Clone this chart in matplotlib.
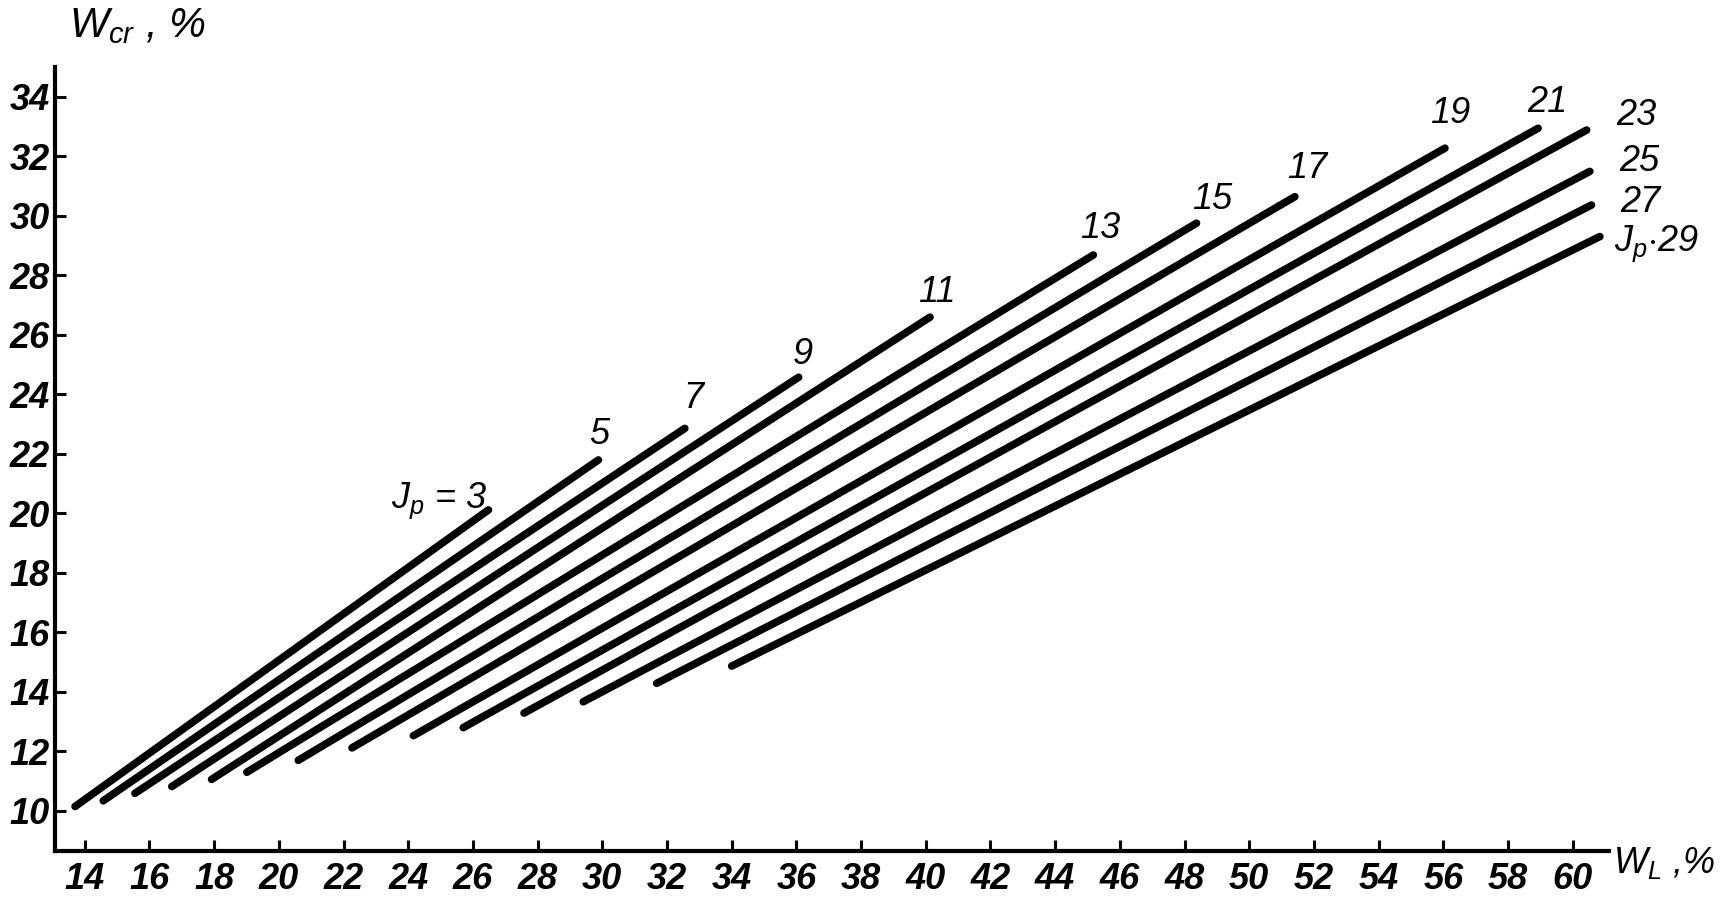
import matplotlib
matplotlib.use("Agg")
from matplotlib import pyplot as plt

# J_p values, one line per plasticity index
jp_values = [3, 5, 7, 9, 11, 13, 15, 17, 19, 21, 23, 25, 27, 29]

# start / end points of every line (W_L, W_cr in %)
wl_start = [13.70, 14.57, 15.55, 16.69, 17.92, 19.01, 20.60, 22.26, 24.16, 25.70, 27.58, 29.41, 31.68, 34.00]
wcr_start = [10.14, 10.33, 10.58, 10.81, 11.05, 11.29, 11.69, 12.11, 12.52, 12.79, 13.28, 13.66, 14.28, 14.86]
wl_end = [26.48, 29.88, 32.55, 36.07, 40.13, 45.18, 48.37, 51.41, 56.05, 58.93, 60.43, 60.53, 60.58, 60.84]
wcr_end = [20.11, 21.79, 22.85, 24.57, 26.59, 28.68, 29.75, 30.64, 32.27, 32.94, 32.88, 31.49, 30.36, 29.30]

# label text and where it sits
label_text = ["$J_p$ = 3", "5", "7", "9", "11", "13", "15", "17", "19", "21", "23", "25", "27", "$J_p$$\\cdot$29"]
label_x = [24.95, 29.91, 32.80, 36.20, 40.35, 45.38, 48.85, 51.78, 56.20, 59.22, 61.98, 62.05, 62.10, 62.60]
label_y = [20.43, 22.65, 23.87, 25.35, 27.42, 29.56, 30.53, 31.60, 33.45, 33.82, 33.37, 31.82, 30.45, 29.05]

x_ticks = list(range(14, 61, 2))
y_ticks = list(range(10, 35, 2))

plt.rcParams["font.family"] = ["Liberation Sans", "DejaVu Sans"]
plt.rcParams["font.style"] = "italic"
plt.rcParams["mathtext.fontset"] = "custom"
plt.rcParams["mathtext.it"] = "Liberation Sans:italic"
plt.rcParams["mathtext.rm"] = "Liberation Sans:italic"

fig = plt.figure(figsize=(17.25, 9.24), dpi=100)
ax = fig.add_axes([0.0319, 0.0786, 0.9329 - 0.0319, 0.9275 - 0.0786])

for i in range(len(jp_values)):
    ax.plot([wl_start[i], wl_end[i]], [wcr_start[i], wcr_end[i]],
            color="black", linewidth=5.5, solid_capstyle="round")
    ax.text(label_x[i], label_y[i], label_text[i], fontsize=26, style="italic",
            ha="center", va="center", clip_on=False)

ax.set_xlim(13.08, 61.13)
ax.set_ylim(8.63, 35.0)
ax.set_xticks(x_ticks)
ax.set_yticks(y_ticks)

ax.spines["top"].set_visible(False)
ax.spines["right"].set_visible(False)
ax.spines["left"].set_linewidth(3)
ax.spines["bottom"].set_linewidth(3)
ax.tick_params(axis="both", direction="in", length=8, width=2.2, labelsize=26)
ax.tick_params(axis="x", pad=8)
ax.tick_params(axis="y", pad=4)
for lab in ax.get_xticklabels() + ax.get_yticklabels():
    lab.set_style("italic")
    lab.set_fontweight("bold")

# axis titles at the ends of the axes
fig.text(0.040, 0.972, "$W_{cr}$ , %", fontsize=30, ha="left", va="center")
fig.text(0.935, 0.066, "$W_L$ ,%", fontsize=26, ha="left", va="center")

plt.savefig("out.png", dpi=100, facecolor="white")
plt.close()
